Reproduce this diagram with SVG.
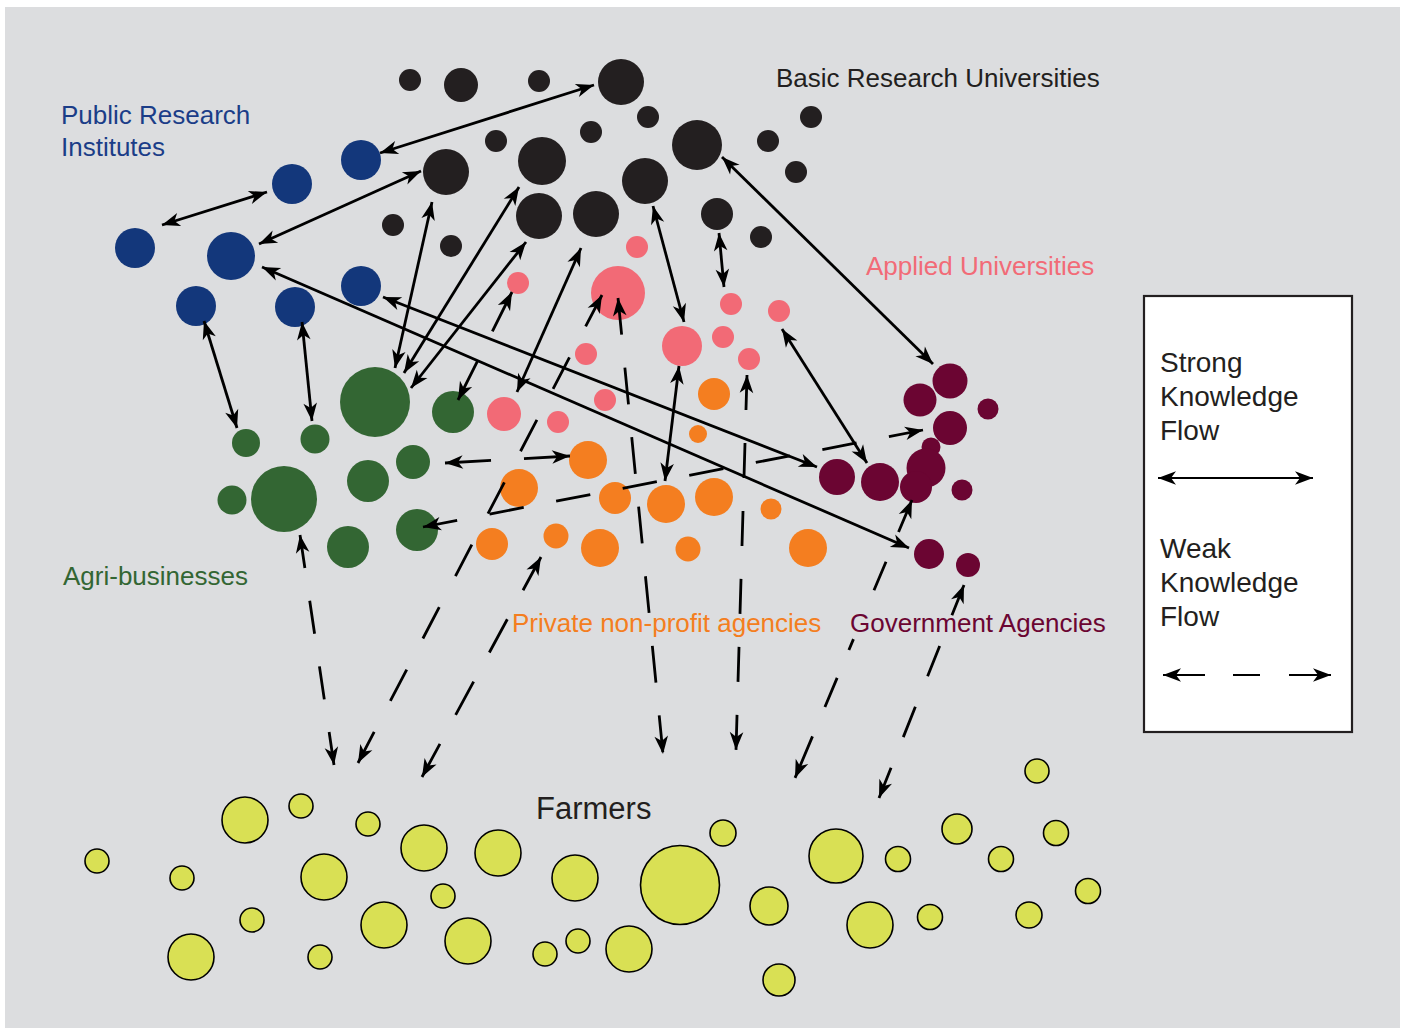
<svg xmlns="http://www.w3.org/2000/svg" width="1405" height="1030" viewBox="0 0 1405 1030">
<style>
.k{fill:#231f20}
.b{fill:#13377b}
.p{fill:#f26a76}
.o{fill:#f47e20}
.g{fill:#336633}
.m{fill:#6b0532}
.f{fill:#d9e054;stroke:#000;stroke-width:1.6}
text{font-family:"Liberation Sans",Arial,Helvetica,sans-serif;font-size:26px}
.s{fill:none;stroke:#000;stroke-width:2.8;marker-start:url(#ah);marker-end:url(#ah)}
.d{fill:none;stroke:#000;stroke-width:2.8;marker-start:url(#ah);marker-end:url(#ah)}
</style>
<defs>
<marker id="ah" viewBox="-19 -7.5 20 15" refX="0" refY="0" markerWidth="20" markerHeight="15" markerUnits="userSpaceOnUse" orient="auto-start-reverse">
<path d="M0,0 L-18,-6.8 L-13,0 L-18,6.8 Z" fill="#000"/>
</marker>
</defs>
<rect x="0" y="0" width="1405" height="1030" fill="#ffffff"/>
<rect x="5" y="7" width="1395" height="1021" fill="#dcdddf"/>

<g id="basic-research-universities">
<circle class="k" cx="410" cy="80" r="11"/>
<circle class="k" cx="461" cy="85" r="17"/>
<circle class="k" cx="539" cy="81" r="11"/>
<circle class="k" cx="621" cy="82" r="23"/>
<circle class="k" cx="648" cy="117" r="11"/>
<circle class="k" cx="591" cy="132" r="11"/>
<circle class="k" cx="496" cy="141" r="11"/>
<circle class="k" cx="446" cy="172" r="23"/>
<circle class="k" cx="542" cy="161" r="24"/>
<circle class="k" cx="697" cy="145" r="25"/>
<circle class="k" cx="645" cy="181" r="23"/>
<circle class="k" cx="768" cy="141" r="11"/>
<circle class="k" cx="811" cy="117" r="11"/>
<circle class="k" cx="796" cy="172" r="11"/>
<circle class="k" cx="539" cy="216" r="23"/>
<circle class="k" cx="596" cy="214" r="23"/>
<circle class="k" cx="717" cy="214" r="16"/>
<circle class="k" cx="761" cy="237" r="11"/>
<circle class="k" cx="393" cy="225" r="11"/>
<circle class="k" cx="451" cy="246" r="11"/>
<text x="776" y="87" fill="#231f20">Basic Research Universities</text>
</g>

<g id="public-research-institutes">
<circle class="b" cx="361" cy="160" r="20"/>
<circle class="b" cx="292" cy="184" r="20"/>
<circle class="b" cx="135" cy="248" r="20"/>
<circle class="b" cx="231" cy="256" r="24"/>
<circle class="b" cx="361" cy="286" r="20"/>
<circle class="b" cx="196" cy="306" r="20"/>
<circle class="b" cx="295" cy="307" r="20"/>
<text x="61" y="124" fill="#1b3d88">Public Research</text>
<text x="61" y="156" fill="#1b3d88">Institutes</text>
</g>

<g id="applied-universities">
<circle class="p" cx="637" cy="247" r="11"/>
<circle class="p" cx="518" cy="283" r="11"/>
<circle class="p" cx="618" cy="293" r="27"/>
<circle class="p" cx="682" cy="346" r="20"/>
<circle class="p" cx="731" cy="304" r="11"/>
<circle class="p" cx="779" cy="311" r="11"/>
<circle class="p" cx="723" cy="337" r="11"/>
<circle class="p" cx="749" cy="359" r="11"/>
<circle class="p" cx="586" cy="354" r="11"/>
<circle class="p" cx="605" cy="400" r="11"/>
<circle class="p" cx="504" cy="414" r="17"/>
<circle class="p" cx="558" cy="422" r="11"/>
<text x="866" y="275" fill="#f26b77">Applied Universities</text>
</g>

<g id="private-non-profit-agencies">
<circle class="o" cx="714" cy="394" r="16"/>
<circle class="o" cx="698" cy="434" r="9"/>
<circle class="o" cx="588" cy="460" r="19"/>
<circle class="o" cx="519" cy="488" r="19"/>
<circle class="o" cx="615" cy="498" r="16"/>
<circle class="o" cx="666" cy="504" r="19"/>
<circle class="o" cx="714" cy="497" r="19"/>
<circle class="o" cx="771" cy="509" r="10.5"/>
<circle class="o" cx="492" cy="544" r="16"/>
<circle class="o" cx="556" cy="536" r="12.5"/>
<circle class="o" cx="600" cy="548" r="19"/>
<circle class="o" cx="688" cy="549" r="12.5"/>
<circle class="o" cx="808" cy="548" r="19"/>
<text x="512" y="632" fill="#f47e20">Private non-profit agencies</text>
</g>

<g id="agri-businesses">
<circle class="g" cx="375" cy="402" r="35"/>
<circle class="g" cx="453" cy="412" r="21"/>
<circle class="g" cx="246" cy="443" r="14"/>
<circle class="g" cx="315" cy="439" r="14.5"/>
<circle class="g" cx="232" cy="500" r="14.5"/>
<circle class="g" cx="284" cy="499" r="33"/>
<circle class="g" cx="368" cy="481" r="21"/>
<circle class="g" cx="413" cy="462" r="17"/>
<circle class="g" cx="348" cy="547" r="21"/>
<circle class="g" cx="417" cy="530" r="21"/>
<text x="63" y="585" fill="#336633">Agri-businesses</text>
</g>

<g id="government-agencies">
<circle class="m" cx="950" cy="381" r="17.5"/>
<circle class="m" cx="920" cy="400" r="16.5"/>
<circle class="m" cx="988" cy="409" r="10.5"/>
<circle class="m" cx="950" cy="428" r="17"/>
<circle class="m" cx="931" cy="447" r="9.5"/>
<circle class="m" cx="926" cy="468" r="19.5"/>
<circle class="m" cx="916" cy="487" r="16"/>
<circle class="m" cx="962" cy="490" r="10.5"/>
<circle class="m" cx="880" cy="482" r="19"/>
<circle class="m" cx="837" cy="477" r="18"/>
<circle class="m" cx="929" cy="554" r="15"/>
<circle class="m" cx="968" cy="565" r="12"/>
<text x="850" y="632" fill="#6b0532">Government Agencies</text>
</g>

<g id="farmers">
<circle class="f" cx="97" cy="861" r="12"/>
<circle class="f" cx="182" cy="878" r="12"/>
<circle class="f" cx="191" cy="957" r="23"/>
<circle class="f" cx="245" cy="820" r="23"/>
<circle class="f" cx="252" cy="920" r="12"/>
<circle class="f" cx="301" cy="806" r="12"/>
<circle class="f" cx="320" cy="957" r="12"/>
<circle class="f" cx="324" cy="877" r="23"/>
<circle class="f" cx="368" cy="824" r="12"/>
<circle class="f" cx="384" cy="925" r="23"/>
<circle class="f" cx="424" cy="848" r="23"/>
<circle class="f" cx="443" cy="896" r="12"/>
<circle class="f" cx="468" cy="941" r="23"/>
<circle class="f" cx="498" cy="853" r="23"/>
<circle class="f" cx="545" cy="954" r="12"/>
<circle class="f" cx="578" cy="941" r="12"/>
<circle class="f" cx="575" cy="878" r="23"/>
<circle class="f" cx="629" cy="949" r="23"/>
<circle class="f" cx="680" cy="885" r="39.5"/>
<circle class="f" cx="723" cy="833" r="13"/>
<circle class="f" cx="769" cy="906" r="19"/>
<circle class="f" cx="779" cy="980" r="16"/>
<circle class="f" cx="836" cy="856" r="27"/>
<circle class="f" cx="870" cy="925" r="23"/>
<circle class="f" cx="898" cy="859" r="12.5"/>
<circle class="f" cx="930" cy="917" r="12.5"/>
<circle class="f" cx="957" cy="829" r="15"/>
<circle class="f" cx="1001" cy="859" r="12.5"/>
<circle class="f" cx="1029" cy="915" r="13"/>
<circle class="f" cx="1037" cy="771" r="12"/>
<circle class="f" cx="1056" cy="833" r="12.5"/>
<circle class="f" cx="1088" cy="891" r="12.5"/>
<text x="536" y="819" fill="#231f20" style="font-size:31px">Farmers</text>
</g>

<g id="connectors">
<path class="s" d="M380,153 L594,85"/>
<path class="s" d="M162,225 L267,192"/>
<path class="s" d="M259,244 L421,171"/>
<path class="s" d="M262,267 L909,548"/>
<path class="s" d="M383,297 L817,467"/>
<path class="s" d="M204,321 L237,428"/>
<path class="s" d="M302,322 L312,421"/>
<path class="s" d="M432,202 L395,368"/>
<path class="s" d="M519,187 L404,373"/>
<path class="s" d="M526,242 L411,388"/>
<path class="s" d="M581,248 L517,392"/>
<path class="s" d="M653,206 L684,322"/>
<path class="s" d="M719,233 L724,287"/>
<path class="s" d="M722,157 L933,364"/>
<path class="s" d="M782,329 L867,463"/>
<path class="s" d="M679,366 L665,481"/>

<path class="d" d="M512,292 L458,400" stroke-dasharray="43.9 33"/>
<path class="d" d="M602,295 L358,763" stroke-dasharray="35.4 35"/>
<path class="d" d="M618,298 L663,754" stroke-dasharray="36.9 33"/>
<path class="d" d="M747,375 L736,750" stroke-dasharray="35 33"/>
<path class="d" d="M445,463 L570,456" stroke-dasharray="46.1 33"/>
<path class="d" d="M423,527 L923,430" stroke-dasharray="34.8 33"/>
<path class="d" d="M541,557 L422,777" stroke-dasharray="37.8 33"/>
<path class="d" d="M300,535 L334,765" stroke-dasharray="33.4 33"/>
<path class="d" d="M912,500 L795,778" stroke-dasharray="34.7 32.3 31 52.9 11.8 30.3 31.5 32 45 40"/>
<path class="d" d="M964,585 L879,798" stroke-dasharray="32.6 33"/>
</g>

<g id="legend">
<rect x="1144" y="296" width="208" height="436" fill="#ffffff" stroke="#231f20" stroke-width="2.2"/>
<text x="1160" y="372" fill="#231f20" style="font-size:28px">Strong</text>
<text x="1160" y="406" fill="#231f20" style="font-size:28px">Knowledge</text>
<text x="1160" y="440" fill="#231f20" style="font-size:28px">Flow</text>
<path class="s" d="M1158,478 L1313,478" style="stroke-width:2"/>
<text x="1160" y="558" fill="#231f20" style="font-size:28px">Weak</text>
<text x="1160" y="592" fill="#231f20" style="font-size:28px">Knowledge</text>
<text x="1160" y="626" fill="#231f20" style="font-size:28px">Flow</text>
<path class="d" d="M1163,675 L1331,675" stroke-dasharray="42 28 27 29 42" style="stroke-width:2"/>
</g>
</svg>
